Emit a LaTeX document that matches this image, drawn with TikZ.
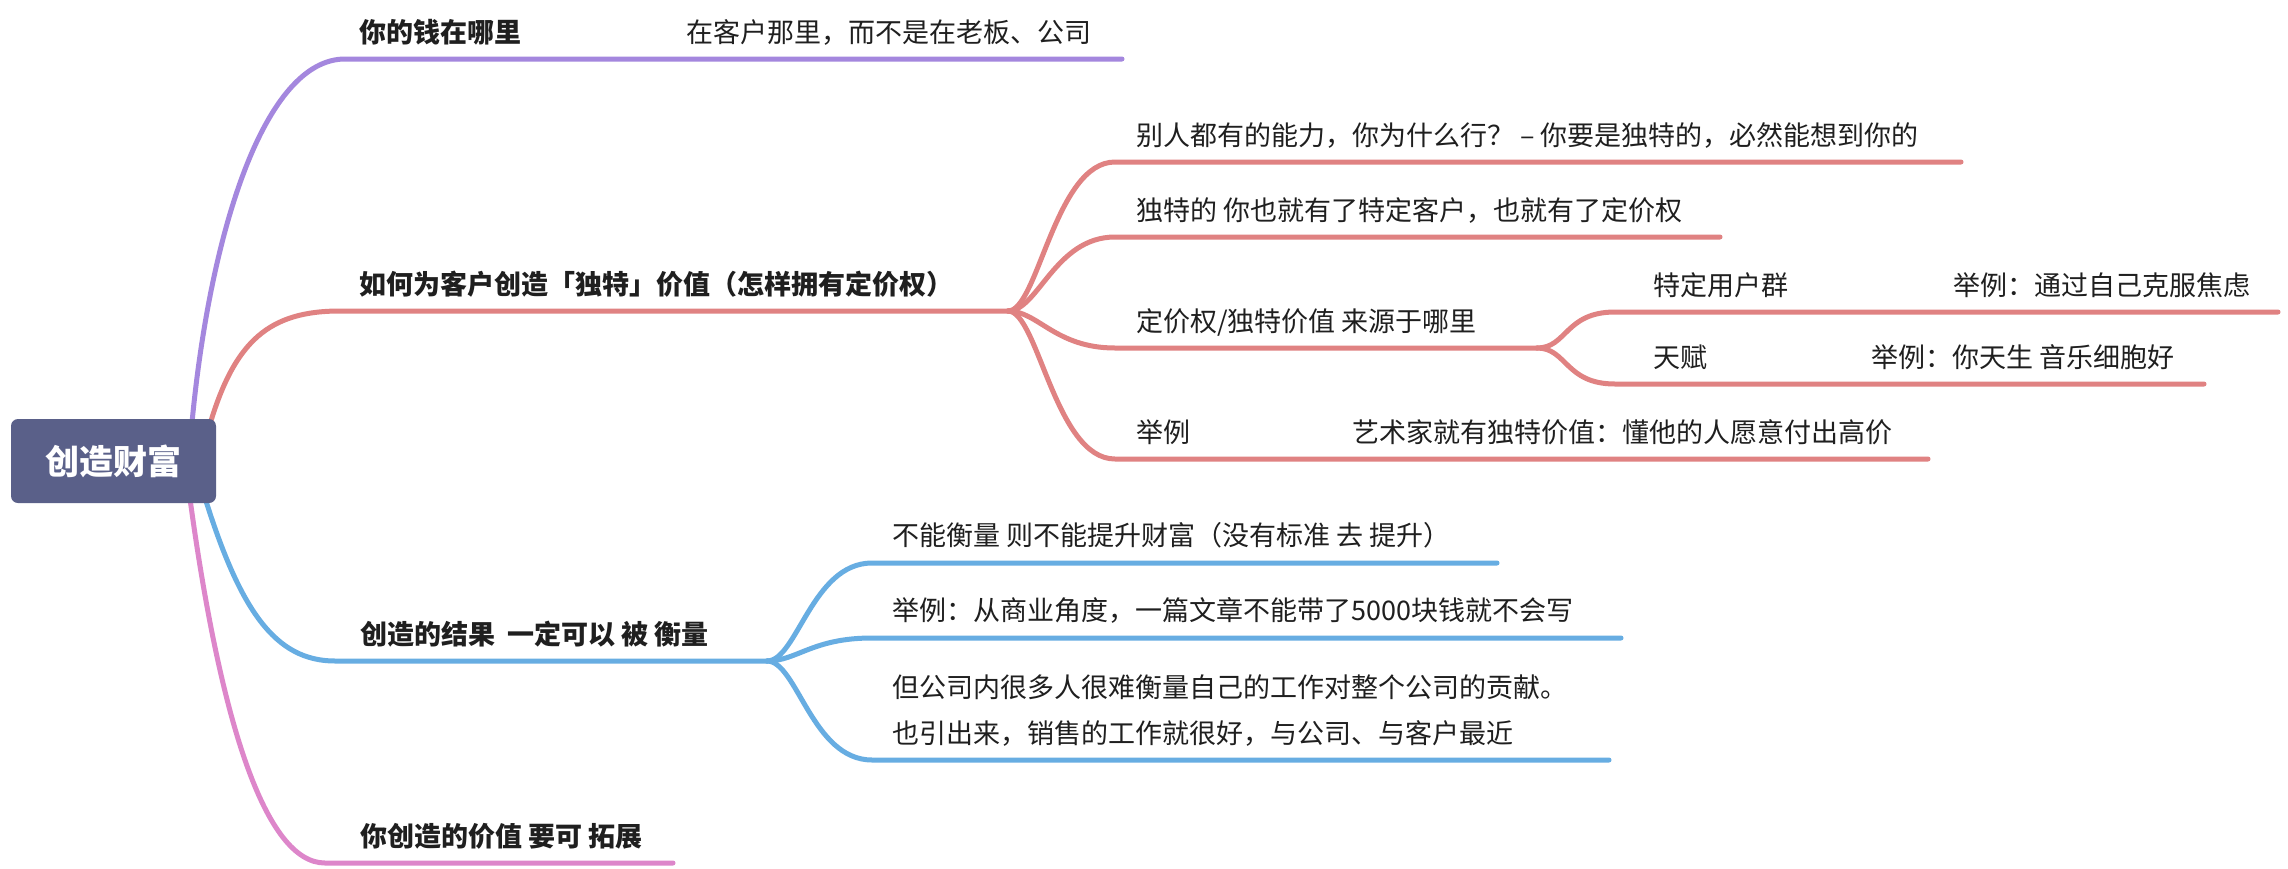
\documentclass[tikz,border=0pt]{standalone}
\usepackage{fontspec}
\setmainfont{Noto Sans CJK SC}
\usetikzlibrary{backgrounds}
\definecolor{cpurple}{HTML}{A487DE}
\definecolor{cred}{HTML}{E08282}
\definecolor{cblue}{HTML}{67ADE2}
\definecolor{cpink}{HTML}{DD86CA}
\definecolor{croot}{HTML}{5A6089}
\definecolor{ctext}{HTML}{1F1F1F}
\begin{document}
\begin{tikzpicture}[x=1pt,y=-1pt,
  branch/.style={line width=5pt, line cap=round},
  lbl/.style={anchor=base west, inner sep=0pt, text=ctext, font=\fontsize{27}{32}\selectfont},
  mainlbl/.style={lbl, font=\fontsize{27}{32}\selectfont\bfseries},
  rootbox/.style={fill=croot, rounded corners=7pt, minimum width=205pt, minimum height=84pt,
    inner sep=0pt, text=white, font=\fontsize{34}{40}\selectfont\bfseries}]
\path[use as bounding box] (0,0) rectangle (2288,868);

\node[rootbox] (root) at (113.5,461) {创造财富};

% level 1 labels
\node[mainlbl] (m1) at (359,42) {你的钱在哪里};
\node[lbl] (m1a) at (686,42) {在客户那里，而不是在老板、公司};
\node[mainlbl] (m2) at (359,294) {如何为客户创造「独特」价值（怎样拥有定价权）};
\node[mainlbl] (m3) at (360,644) {创造的结果\ \ 一定可以 被 衡量};
\node[mainlbl] (m4) at (360,846) {你创造的价值 要可 拓展};

% red children
\node[lbl] (c1) at (1136,145) {别人都有的能力，你为什么行？ – 你要是独特的，必然能想到你的};
\node[lbl] (c2) at (1136,220) {独特的 你也就有了特定客户，也就有了定价权};
\node[lbl] (c3) at (1136,331) {定价权/独特价值 来源于哪里};
\node[lbl] (c4) at (1136,442) {举例};
\node[lbl] (c4a) at (1352,442) {艺术家就有独特价值：懂他的人愿意付出高价};
\node[lbl] (g1) at (1653,295) {特定用户群};
\node[lbl] (g1a) at (1953,295) {举例：通过自己克服焦虑};
\node[lbl] (g2) at (1653,367) {天赋};
\node[lbl] (g2a) at (1871,367) {举例：你天生 音乐细胞好};

% blue children
\node[lbl] (b1) at (892,545) {不能衡量 则不能提升财富（没有标准 去 提升）};
\node[lbl] (b2) at (892,620) {举例：从商业角度，一篇文章不能带了5000块钱就不会写};
\node[lbl] (b3) at (892,697) {但公司内很多人很难衡量自己的工作对整个公司的贡献。};
\node[lbl] (b3b) at (892,743) {也引出来，销售的工作就很好，与公司、与客户最近};

\coordinate (rj) at (1008,311);
\coordinate (bj) at (767,661);
\coordinate (gj) at (1537,348);

\begin{scope}[on background layer]
\fill[white] (0,0) rectangle (2288,868);
% main branches
\draw[branch,cpurple] ([xshift=181pt,yshift=-6pt]root.north west) .. controls (210,230) and (265,59) .. (345,59) -- (1122,59);
\draw[branch,cred] ([xshift=199pt,yshift=-6pt]root.north west) .. controls (235,340) and (270,311) .. (340,311) -- (rj);
\draw[branch,cblue] ([xshift=194pt,yshift=6pt]root.south west) .. controls (240,610) and (275,661) .. (335,661) -- (bj);
\draw[branch,cpink] ([xshift=179pt,yshift=6pt]root.south west) .. controls (220,720) and (265,863) .. (325,863) -- (673,863);
% red children
\draw[branch,cred] (rj) .. controls +(30,0) and +(-60,0) .. (1115,162) -- (1961,162);
\draw[branch,cred] (rj) .. controls +(30,0) and +(-60,0) .. (1115,237) -- (1720,237);
\draw[branch,cred] (rj) .. controls +(30,0) and +(-60,0) .. (1115,348) -- (gj);
\draw[branch,cred] (rj) .. controls +(30,0) and +(-60,0) .. (1115,459) -- (1928,459);
% grandchildren
\draw[branch,cred] (gj) .. controls +(30,0) and +(-50,0) .. (1615,312) -- (2278,312);
\draw[branch,cred] (gj) .. controls +(30,0) and +(-50,0) .. (1615,384) -- (2204,384);
% blue children
\draw[branch,cblue] (bj) .. controls +(30,0) and +(-60,0) .. (872,563) -- (1497,563);
\draw[branch,cblue] (bj) .. controls +(30,0) and +(-60,0) .. (872,638) -- (1621,638);
\draw[branch,cblue] (bj) .. controls +(30,0) and +(-60,0) .. (872,760) -- (1609,760);
\end{scope}
\end{tikzpicture}
\end{document}
